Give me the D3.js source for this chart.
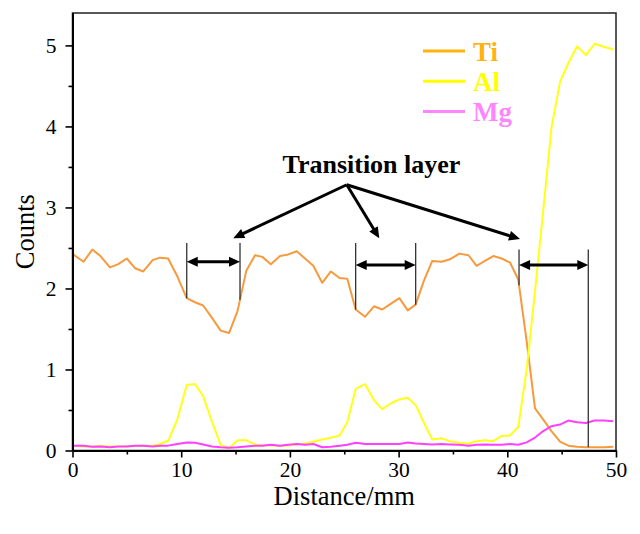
<!DOCTYPE html>
<html><head><meta charset="utf-8">
<script src="https://cdn.jsdelivr.net/npm/d3@7/dist/d3.min.js"></script>
<style>body{margin:0;background:#fff;} svg{display:block;}</style>
</head><body><svg id="c" width="640" height="534"></svg>
<script>
// ---- data ----
const distance = [0.06,1.02,1.82,2.57,3.45,4.21,4.99,5.75,6.51,7.37,8.04,8.80,9.64,10.51,11.27,12.02,12.82,13.63,14.40,15.18,15.99,16.79,17.46,18.25,19.09,19.85,20.63,21.39,22.15,22.97,23.77,24.57,25.28,26.05,26.91,27.74,28.49,29.27,30.07,30.84,31.57,32.34,33.10,33.96,34.72,35.59,36.43,37.18,37.94,38.71,39.48,40.25,41.01,41.78,42.55,43.31,44.06,44.85,45.61,46.42,47.23,48.03,48.94,49.75];
const ti = [2.42,2.33,2.48,2.40,2.26,2.30,2.37,2.25,2.21,2.35,2.38,2.37,2.15,1.88,1.83,1.79,1.64,1.48,1.45,1.72,2.22,2.41,2.39,2.30,2.40,2.42,2.46,2.37,2.28,2.07,2.21,2.13,2.12,1.74,1.65,1.78,1.74,1.81,1.88,1.73,1.80,2.10,2.34,2.33,2.36,2.43,2.41,2.28,2.34,2.40,2.37,2.32,2.11,1.35,0.52,0.38,0.24,0.11,0.06,0.045,0.04,0.04,0.04,0.045];
const al = [0.06,0.05,0.045,0.06,0.05,0.05,0.05,0.06,0.06,0.06,0.08,0.12,0.38,0.81,0.82,0.67,0.36,0.07,0.03,0.125,0.125,0.075,0.066,0.062,0.06,0.062,0.074,0.086,0.107,0.136,0.157,0.185,0.35,0.76,0.82,0.62,0.51,0.58,0.63,0.65,0.56,0.34,0.135,0.15,0.115,0.095,0.086,0.115,0.127,0.115,0.18,0.185,0.29,1.0,1.97,2.97,3.98,4.55,4.78,4.99,4.88,5.02,4.98,4.95];
const mg = [0.06,0.06,0.045,0.05,0.04,0.05,0.05,0.06,0.06,0.05,0.06,0.06,0.08,0.10,0.095,0.075,0.05,0.04,0.035,0.04,0.05,0.06,0.06,0.07,0.06,0.07,0.08,0.07,0.08,0.04,0.045,0.06,0.07,0.095,0.08,0.08,0.08,0.08,0.08,0.10,0.085,0.08,0.075,0.08,0.075,0.07,0.06,0.07,0.075,0.07,0.07,0.08,0.07,0.10,0.16,0.24,0.30,0.32,0.37,0.35,0.34,0.37,0.37,0.36];
const seriesNames = ["Ti","Al","Mg"];
const xTicks = [0,10,20,30,40,50];
const xMinor = [5,15,25,35,45];
const yTicks = [0,1,2,3,4,5];
const yMinor = [0.5,1.5,2.5,3.5,4.5];
const layerBounds = [[10.51,15.41],[26.05,31.57],[41.08,47.45]];
const annotationText = "Transition layer";

// ---- layout ----
const m = {left:72.5, right:616, top:13, bottom:450.5};
const x = d3.scaleLinear().domain([0,50]).range([m.left, m.right]);
const y = d3.scaleLinear().domain([0,5.4]).range([m.bottom, m.top]);
const svg = d3.select("#c");
const font = "'Liberation Serif','Times New Roman',serif";
const lineColors = {Ti:"#F79A3E", Al:"#FFFF1A", Mg:"#FF40FF"};
const legendColors = {Ti:"#FFB30F", Al:"#FFFF00", Mg:"#FF85FF"};
const seriesData = {Ti:ti, Al:al, Mg:mg};

svg.append("rect").attr("width",640).attr("height",534).attr("fill","#fff");

// frame
svg.append("rect").attr("x",m.left).attr("y",m.top)
  .attr("width",m.right-m.left).attr("height",m.bottom-m.top)
  .attr("fill","none").attr("stroke","#222").attr("stroke-width",1.5);

// series
const line = d3.line().x((d,i)=>x(distance[i])).y(d=>y(d));
seriesNames.forEach(n=>{
  svg.append("path").datum(seriesData[n]).attr("d",line)
    .attr("fill","none").attr("stroke",lineColors[n]).attr("stroke-width",2)
    .attr("stroke-linejoin","round");
});

// axes
function styleAxis(g){
  g.selectAll("path.domain").attr("stroke","#000").attr("stroke-width",2);
  g.selectAll(".tick line").attr("stroke","#000").attr("stroke-width",1.6);
  g.selectAll("text").attr("font-family",font).attr("font-size",21.5).attr("fill","#000");
}
const gx = svg.append("g").attr("transform",`translate(0,${m.bottom})`)
  .call(d3.axisBottom(x).tickValues(xTicks).tickSize(7).tickSizeOuter(0).tickPadding(4).tickFormat(d3.format("d")));
styleAxis(gx);
const gxm = svg.append("g").attr("transform",`translate(0,${m.bottom})`)
  .call(d3.axisBottom(x).tickValues(xMinor).tickSize(4).tickSizeOuter(0).tickFormat(""));
styleAxis(gxm);
const gy = svg.append("g").attr("transform",`translate(${m.left},0)`)
  .call(d3.axisLeft(y).tickValues(yTicks).tickSize(7).tickSizeOuter(0).tickPadding(9).tickFormat(d3.format("d")));
styleAxis(gy);
const gym = svg.append("g").attr("transform",`translate(${m.left},0)`)
  .call(d3.axisLeft(y).tickValues(yMinor).tickSize(4).tickSizeOuter(0).tickFormat(""));
styleAxis(gym);

// axis titles
svg.append("text").attr("x",(m.left+m.right)/2).attr("y",505)
  .attr("text-anchor","middle").attr("font-family",font).attr("font-size",26.5)
  .text("Distance/mm");
svg.append("text").attr("transform",`translate(34,${(m.top+m.bottom)/2}) rotate(-90)`)
  .attr("text-anchor","middle").attr("font-family",font).attr("font-size",26.5)
  .text("Counts");

// legend
seriesNames.forEach((n,i)=>{
  const ly = 51 + i*30.3;
  svg.append("line").attr("x1",423).attr("x2",465).attr("y1",ly).attr("y2",ly)
    .attr("stroke",legendColors[n]).attr("stroke-width",3);
  svg.append("text").attr("x",473).attr("y",ly+9.5)
    .attr("font-family",font).attr("font-size",27).attr("font-weight","bold")
    .attr("fill",legendColors[n]).text(n);
});

// annotations
function interpTi(xv){
  for(let i=0;i<distance.length-1;i++){
    if(xv>=distance[i] && xv<=distance[i+1]){
      const t=(xv-distance[i])/(distance[i+1]-distance[i]);
      return ti[i]+t*(ti[i+1]-ti[i]);
    }
  }
  return ti[ti.length-1];
}
function head(x1,y1,x2,y2,len,wid){
  const a=Math.atan2(y2-y1,x2-x1);
  const bx=x2-len*Math.cos(a), by=y2-len*Math.sin(a);
  const px=-Math.sin(a)*wid/2, py=Math.cos(a)*wid/2;
  svg.append("path").attr("d",`M${x2},${y2}L${bx+px},${by+py}L${bx-px},${by-py}Z`).attr("fill","#000");
}
function arrow(x1,y1,x2,y2,both){
  const len=11, wid=10;
  const a=Math.atan2(y2-y1,x2-x1);
  const sx = both ? x1+ (len-2)*Math.cos(a) : x1, sy = both ? y1+(len-2)*Math.sin(a) : y1;
  const ex = x2-(len-2)*Math.cos(a), ey = y2-(len-2)*Math.sin(a);
  svg.append("line").attr("x1",sx).attr("y1",sy).attr("x2",ex).attr("y2",ey)
    .attr("stroke","#000").attr("stroke-width",3);
  head(x1,y1,x2,y2,len,wid);
  if(both) head(x2,y2,x1,y1,len,wid);
}
const topVals = [2.56,2.56,2.48];
const arrowVals = [2.33,2.29,2.29];
layerBounds.forEach((b,i)=>{
  b.forEach(bx=>{
    svg.append("line").attr("x1",x(bx)).attr("x2",x(bx))
      .attr("y1",y(topVals[i])).attr("y2",y(interpTi(bx)))
      .attr("stroke","#333").attr("stroke-width",1.3);
  });
  arrow(x(b[0]),y(arrowVals[i]),x(b[1]),y(arrowVals[i]),true);
});
svg.append("text").attr("x",x(27.5)).attr("y",y(3.43))
  .attr("text-anchor","middle").attr("font-family",font).attr("font-size",26)
  .attr("font-weight","bold").text(annotationText);
const origin = [25.23,3.28];
const targets = [[14.79,2.62],[28.22,2.62],[41.17,2.61]];
targets.forEach(t=>arrow(x(origin[0]),y(origin[1]),x(t[0]),y(t[1]),false));
</script></body></html>
